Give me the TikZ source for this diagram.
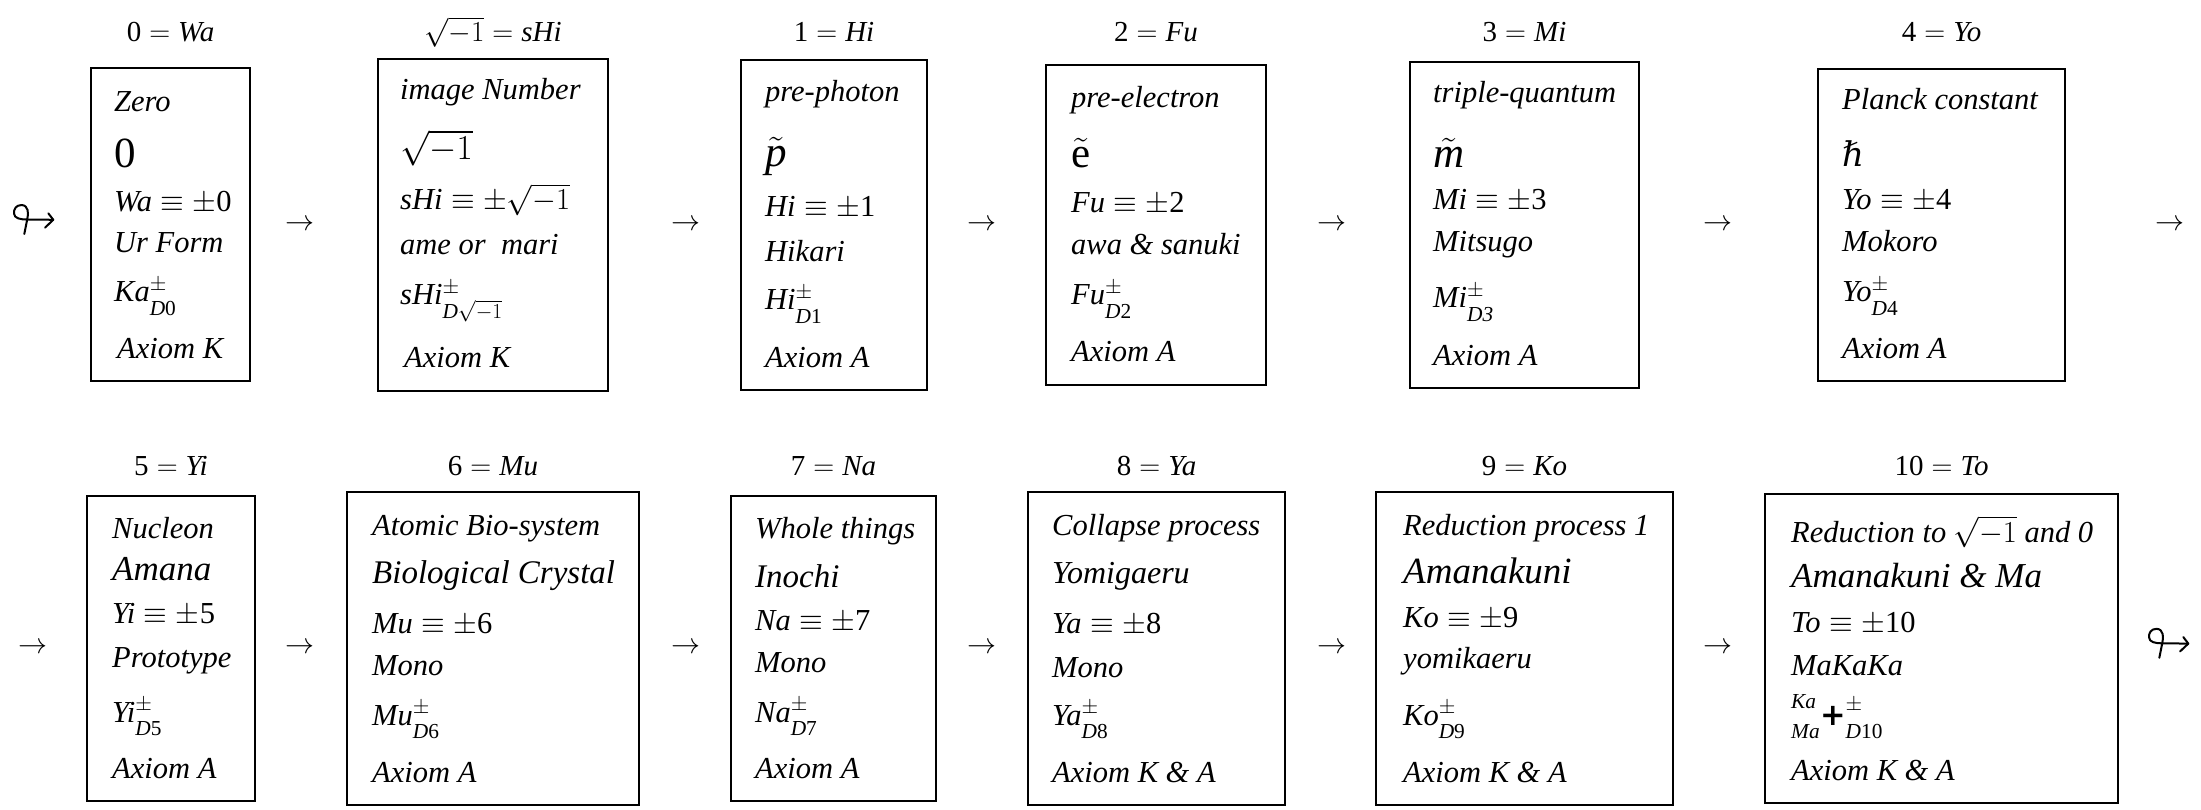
\RequirePackage{fix-cm}
\documentclass[tikz,border=0pt]{standalone}
\usepackage{amsmath}
\usepackage{fontspec}
\setmainfont{Liberation Serif}
\newfontfamily\dejavu{DejaVu Sans}
\newfontfamily\dejavuserif{DejaVu Serif}
\usetikzlibrary{fit}
\newcommand{\itx}[1]{\text{\itshape #1}}
\newcommand{\upx}[1]{\text{\upshape #1}}
% superscript plus-minus and a lowered subscript
\newcommand{\pmsub}[1]{^{\pm}_{\raisebox{-6pt}{$\scriptstyle #1$}}}
\tikzset{
  boxst/.style={draw, line width=2pt, inner sep=0pt},
  ln/.style={anchor=base west, inner sep=0pt, font=\fontsize{30.5}{36}\selectfont\itshape},
  bigln/.style={anchor=base west, inner sep=0pt, font=\fontsize{43}{50}\selectfont\itshape},
  sizedln/.style={anchor=base west, inner sep=0pt, font=\fontsize{#1}{40}\selectfont\itshape},
  lab/.style={anchor=base, inner sep=0pt, font=\fontsize{29}{32}\selectfont},
  arr/.style={inner sep=0pt, font=\fontsize{29}{32}\selectfont},
  looparr/.pic={
    \draw[line width=2pt, line cap=round, line join=round]
      (-2.4,14.5) -- (0.5,0) .. controls (2,-6) and (2,-14) .. (-5,-14.5)
      .. controls (-11,-14.5) and (-13,-10) .. (-12.7,-6)
      .. controls (-12.5,-1) and (-6,0) .. (0,0) -- (26.6,0.3);
    \draw[line width=2pt, line cap=round, line join=round]
      (21.6,-6.2) -- (26.6,0.3) -- (18.3,8.2);
  }
}
\begin{document}
\begin{tikzpicture}[x=1pt, y=-1pt]
\useasboundingbox (0,0) rectangle (2201,810);
\coordinate (r1) at (0,42);
\coordinate (r2) at (0,475);
% ---------- row 1 boxes ----------
\node[boxst, fit={(91,68) (250,381)}] (b0) {};
\node[boxst, fit={(378,59) (608,391)}] (b1) {};
\node[boxst, fit={(741,60) (927,390)}] (b2) {};
\node[boxst, fit={(1046,65) (1266,385)}] (b3) {};
\node[boxst, fit={(1410,62) (1639,388)}] (b4) {};
\node[boxst, fit={(1818,69) (2065,381)}] (b5) {};
% ---------- row 2 boxes ----------
\node[boxst, fit={(87,496) (255,801)}] (b6) {};
\node[boxst, fit={(347,492) (639,805)}] (b7) {};
\node[boxst, fit={(731,496) (936,801)}] (b8) {};
\node[boxst, fit={(1028,492) (1285,805)}] (b9) {};
\node[boxst, fit={(1376,492) (1673,805)}] (b10) {};
\node[boxst, fit={(1765,494) (2118,803)}] (b11) {};
% ---------- labels ----------
\node[lab] (l0) at (b0.north |- r1) {$\upx{0}=\itx{Wa}$};
\node[lab] (l1) at (b1.north |- r1) {$\sqrt{-1}=\itx{sHi}$};
\node[lab] (l2) at (b2.north |- r1) {$\upx{1}=\itx{Hi}$};
\node[lab] (l3) at (b3.north |- r1) {$\upx{2}=\itx{Fu}$};
\node[lab] (l4) at (b4.north |- r1) {$\upx{3}=\itx{Mi}$};
\node[lab] (l5) at (b5.north |- r1) {$\upx{4}=\itx{Yo}$};
\node[lab] (l6) at (b6.north |- r2) {$\upx{5}=\itx{Yi}$};
\node[lab] (l7) at (b7.north |- r2) {$\upx{6}=\itx{Mu}$};
\node[lab] (l8) at (b8.north |- r2) {$\upx{7}=\itx{Na}$};
\node[lab] (l9) at (b9.north |- r2) {$\upx{8}=\itx{Ya}$};
\node[lab] (l10) at (b10.north |- r2) {$\upx{9}=\itx{Ko}$};
\node[lab] (l11) at (b11.north |- r2) {$\upx{10}=\itx{To}$};
% ---------- arrows ----------
\pic (la) at (26.7,219.5) {looparr};
\node[arr] (a1) at (300,225) {$\rightarrow$};
\node[arr] (a2) at (686,225) {$\rightarrow$};
\node[arr] (a3) at (982,225) {$\rightarrow$};
\node[arr] (a4) at (1332,225) {$\rightarrow$};
\node[arr] (a5) at (1718,225) {$\rightarrow$};
\node[arr] (a6) at (2170,225) {$\rightarrow$};
\node[arr] (a7) at (33,648) {$\rightarrow$};
\node[arr] (a8) at (300,648) {$\rightarrow$};
\node[arr] (a9) at (686,648) {$\rightarrow$};
\node[arr] (a10) at (982,648) {$\rightarrow$};
\node[arr] (a11) at (1332,648) {$\rightarrow$};
\node[arr] (a12) at (1718,648) {$\rightarrow$};
\pic (lb) at (2161.7,643.3) {looparr};
% ---------- box 0 ----------
\node[ln] (t0a) at (114,112) {Zero};
\node[bigln] (t0b) at (114,168) {\upshape 0};
\node[ln] (t0c) at (114,212) {$\itx{Wa}\equiv\pm\upx{0}$};
\node[ln] (t0d) at (114,253) {Ur Form};
\node[ln] (t0e) at (114,302) {$\itx{Ka}\pmsub{\itx{D}\upx{0}}$};
\node[ln] (t0f) at (117,359) {Axiom K};
% ---------- box 1 ----------
\node[ln] (t1a) at (400,100) {image Number};
\node[sizedln=35] (t1b) at (400,160) {$\sqrt{-1}$};
\node[ln] (t1c) at (400,210) {$\itx{sHi}\equiv\pm\sqrt{-1}$};
\node[ln] (t1d) at (400,255) {ame or\ \ mari};
\node[ln] (t1e) at (400,305) {$\itx{sHi}\pmsub{\itx{D}\sqrt{-1}}$};
\node[ln] (t1f) at (404,367) {Axiom K};
% ---------- box 2 ----------
\node[ln] (t2a) at (765,102) {pre-photon};
\node[bigln] (t2b) at (765,167) {$\tilde{\itx{p}}$};
\node[ln] (t2c) at (765,217) {$\itx{Hi}\equiv\pm\upx{1}$};
\node[ln] (t2d) at (765,262) {Hikari};
\node[ln] (t2e) at (765,310) {$\itx{Hi}\pmsub{\itx{D}\upx{1}}$};
\node[ln] (t2f) at (765,367) {Axiom A};
% ---------- box 3 ----------
\node[ln] (t3a) at (1071,108) {pre-electron};
\node[bigln] (t3b) at (1071,168) {$\tilde{\upx{e}}$};
\node[ln] (t3c) at (1071,213) {$\itx{Fu}\equiv\pm\upx{2}$};
\node[ln] (t3d) at (1071,255) {awa \& sanuki};
\node[ln] (t3e) at (1071,305) {$\itx{Fu}\pmsub{\itx{D}\upx{2}}$};
\node[ln] (t3f) at (1071,362) {Axiom A};
% ---------- box 4 ----------
\node[ln] (t4a) at (1433,103) {triple-quantum};
\node[bigln] (t4b) at (1433,168) {$\tilde{\itx{m}}$};
\node[ln] (t4c) at (1433,210) {$\itx{Mi}\equiv\pm\upx{3}$};
\node[ln] (t4d) at (1433,252) {Mitsugo};
\node[ln] (t4e) at (1433,308) {$\itx{Mi}\pmsub{\itx{D3}}$};
\node[ln] (t4f) at (1433,365) {Axiom A};
% ---------- box 5 ----------
\node[ln] (t5a) at (1842,110) {Planck constant};
\node[sizedln=34] (t5b) at (1842,167) {\dejavuserif\itshape ℏ};
\node[ln] (t5c) at (1842,210) {$\itx{Yo}\equiv\pm\upx{4}$};
\node[ln] (t5d) at (1842,252) {Mokoro};
\node[ln] (t5e) at (1842,302) {$\itx{Yo}\pmsub{\itx{D}\upx{4}}$};
\node[ln] (t5f) at (1842,358) {Axiom A};
% ---------- box 6 ----------
\node[ln] (t6a) at (112,538) {Nucleon};
\node[sizedln=35] (t6b) at (112,580) {Amana};
\node[ln] (t6c) at (112,623) {$\itx{Yi}\equiv\pm\upx{5}$};
\node[ln] (t6d) at (112,667) {Prototype};
\node[ln] (t6e) at (112,722) {$\itx{Yi}\pmsub{\itx{D}\upx{5}}$};
\node[ln] (t6f) at (112,778) {Axiom A};
% ---------- box 7 ----------
\node[ln] (t7a) at (372,535) {Atomic Bio-system};
\node[sizedln=33] (t7b) at (372,583) {Biological Crystal};
\node[ln] (t7c) at (372,633) {$\itx{Mu}\equiv\pm\upx{6}$};
\node[ln] (t7d) at (372,675) {Mono};
\node[ln] (t7e) at (372,725) {$\itx{Mu}\pmsub{\itx{D}\upx{6}}$};
\node[ln] (t7f) at (372,782) {Axiom A};
% ---------- box 8 ----------
\node[ln] (t8a) at (755,538) {Whole things};
\node[sizedln=33] (t8b) at (755,587) {Inochi};
\node[ln] (t8c) at (755,630) {$\itx{Na}\equiv\pm\upx{7}$};
\node[ln] (t8d) at (755,672) {Mono};
\node[ln] (t8e) at (755,722) {$\itx{Na}\pmsub{\itx{D}\upx{7}}$};
\node[ln] (t8f) at (755,778) {Axiom A};
% ---------- box 9 ----------
\node[ln] (t9a) at (1052,535) {Collapse process};
\node[sizedln=32] (t9b) at (1052,583) {Yomigaeru};
\node[ln] (t9c) at (1052,633) {$\itx{Ya}\equiv\pm\upx{8}$};
\node[ln] (t9d) at (1052,677) {Mono};
\node[ln] (t9e) at (1052,725) {$\itx{Ya}\pmsub{\itx{D}\upx{8}}$};
\node[ln] (t9f) at (1052,782) {Axiom K \& A};
% ---------- box 10 ----------
\node[ln] (t10a) at (1403,535) {Reduction process 1};
\node[sizedln=37] (t10b) at (1403,583) {Amanakuni};
\node[ln] (t10c) at (1403,627) {$\itx{Ko}\equiv\pm\upx{9}$};
\node[ln] (t10d) at (1403,668) {yomikaeru};
\node[ln] (t10e) at (1403,725) {$\itx{Ko}\pmsub{\itx{D}\upx{9}}$};
\node[ln] (t10f) at (1403,782) {Axiom K \& A};
% ---------- box 11 ----------
\node[ln] (t11a) at (1791,542) {Reduction to $\sqrt{-1}$ and 0};
\node[sizedln=35] (t11b) at (1791,587) {Amanakuni \& Ma};
\node[ln] (t11c) at (1791,632) {$\itx{To}\equiv\pm\upx{10}$};
\node[ln] (t11d) at (1791,675) {MaKaKa};
\node[ln] (t11e) at (1791,725) {${}^{\raisebox{5pt}{$\scriptstyle\itx{Ka}$}}_{\raisebox{-6pt}{$\scriptstyle\itx{Ma}$}}\text{\upshape\dejavu\bfseries +}^{\raisebox{3pt}{$\scriptstyle\pm$}}_{\raisebox{-6pt}{$\scriptstyle\itx{D}\upx{10}$}}$};
\node[ln] (t11f) at (1791,780) {Axiom K \& A};
\end{tikzpicture}
\end{document}
